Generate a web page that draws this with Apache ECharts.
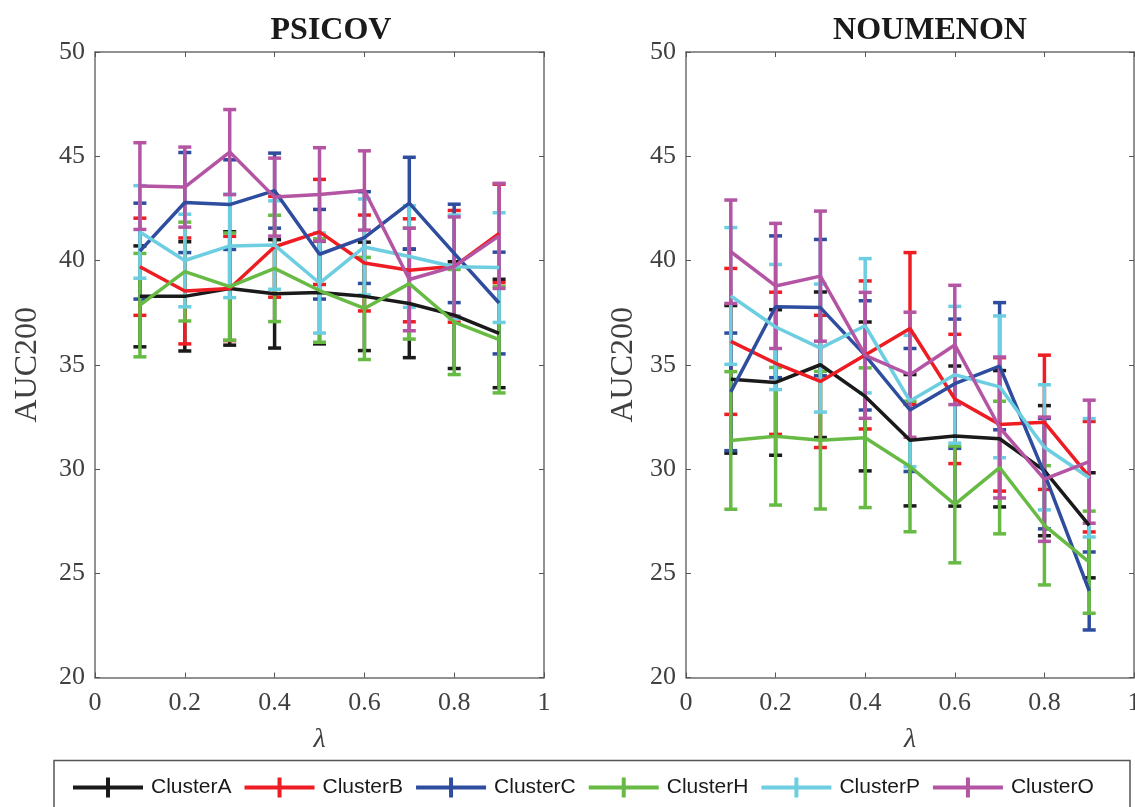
<!DOCTYPE html>
<html>
<head>
<meta charset="utf-8">
<script src="https://cdn.jsdelivr.net/npm/echarts@6/dist/echarts.min.js"></script>
<style>html,body{margin:0;padding:0;background:#fff}#c{width:1135px;height:807px}</style>
</head>
<body>
<div id="c"></div>
<script>
// ---- data ----
const lambda = [0.1, 0.2, 0.3, 0.4, 0.5, 0.6, 0.7, 0.8, 0.9];
const clusters = ['ClusterA', 'ClusterB', 'ClusterC', 'ClusterH', 'ClusterP', 'ClusterO'];
const colors = ['#1a1a1a', '#ee1d24', '#2f4d9f', '#67bb45', '#6ccee0', '#b455a4'];
const panelTitles = ['PSICOV', 'NOUMENON'];
const xTicks = [0, 0.2, 0.4, 0.6, 0.8, 1];
const yTicks = [20, 25, 30, 35, 40, 45, 50];

// PSICOV means / error half-widths
const psicovA = [38.28, 38.28, 38.66, 38.40, 38.46, 38.28, 37.94, 37.38, 36.50];
const psicovAErr = [2.42, 2.62, 2.72, 2.60, 2.46, 2.60, 2.60, 2.56, 2.60];
const psicovB = [39.70, 38.54, 38.66, 40.66, 41.37, 39.88, 39.53, 39.72, 41.30];
const psicovBErr = [2.33, 2.54, 2.50, 2.42, 2.52, 2.30, 2.47, 2.68, 2.36];
const psicovC = [40.45, 42.78, 42.68, 43.35, 40.30, 41.10, 42.75, 40.34, 37.96];
const psicovCErr = [2.30, 2.40, 2.15, 1.80, 2.15, 2.20, 2.20, 2.36, 2.44];
const psicovH = [37.86, 39.47, 38.75, 39.62, 38.56, 37.70, 38.89, 37.05, 36.20];
const psicovHErr = [2.48, 2.37, 2.57, 2.55, 2.48, 2.45, 2.66, 2.52, 2.55];
const psicovP = [41.37, 40.00, 40.70, 40.74, 38.92, 40.65, 40.19, 39.70, 39.66];
const psicovPErr = [2.22, 2.22, 2.48, 2.12, 2.40, 2.30, 2.44, 2.48, 2.63];
const psicovO = [43.57, 43.52, 45.20, 43.04, 43.17, 43.36, 39.09, 39.71, 41.18];
const psicovOErr = [2.08, 1.92, 2.04, 1.87, 2.24, 1.90, 2.46, 2.38, 2.52];

// NOUMENON means / error half-widths
const noumA = [34.30, 34.15, 35.00, 33.48, 31.38, 31.58, 31.45, 29.92, 27.30];
const noumAErr = [3.54, 3.49, 3.49, 3.57, 3.15, 3.36, 3.27, 3.12, 2.52];
const noumB = [36.12, 35.07, 34.20, 35.47, 36.74, 33.36, 32.14, 32.24, 29.63];
const noumBErr = [3.50, 3.41, 3.17, 3.55, 3.64, 3.10, 3.20, 3.22, 2.65];
const noumC = [33.70, 37.78, 37.74, 35.45, 32.83, 34.09, 34.93, 29.78, 24.15];
const noumCErr = [2.82, 3.40, 3.27, 2.62, 2.95, 3.10, 3.05, 2.65, 1.87];
const noumH = [31.37, 31.57, 31.38, 31.50, 30.12, 28.30, 30.07, 27.30, 25.53];
const noumHErr = [3.30, 3.30, 3.30, 3.35, 3.13, 2.80, 3.18, 2.86, 2.45];
const noumP = [38.30, 36.81, 35.80, 36.87, 33.26, 34.52, 33.94, 31.04, 29.58];
const noumPErr = [3.28, 3.00, 3.07, 3.22, 3.15, 3.28, 3.40, 3.00, 2.84];
const noumO = [40.42, 38.78, 39.25, 35.45, 34.52, 35.95, 31.99, 29.51, 30.35];
const noumOErr = [2.48, 3.00, 3.12, 3.02, 3.00, 2.86, 3.38, 2.98, 2.95];

const panels = [
  { means: [psicovA, psicovB, psicovC, psicovH, psicovP, psicovO],
    errs: [psicovAErr, psicovBErr, psicovCErr, psicovHErr, psicovPErr, psicovOErr] },
  { means: [noumA, noumB, noumC, noumH, noumP, noumO],
    errs: [noumAErr, noumBErr, noumCErr, noumHErr, noumPErr, noumOErr] }
];

// ---- layout / style ----
const SERIF = "'Liberation Serif', 'Times New Roman', serif";
const SANS = "'Liberation Sans', Arial, sans-serif";
const frameColor = '#6e6e6e';
const labelColor = '#404040';
const grids = [
  { left: 95, top: 52, width: 449, height: 625.5, outerBoundsMode: 'none', containLabel: false },
  { left: 686, top: 52, width: 448, height: 625.5, outerBoundsMode: 'none', containLabel: false }
];

const xAxes = [], yAxes = [];
grids.forEach((g, gi) => {
  const common = {
    type: 'value', gridIndex: gi, splitLine: { show: false },
    axisLine: { show: true, onZero: false, lineStyle: { color: frameColor, width: 1.5 } },
    axisTick: { show: true, inside: true, length: 5, lineStyle: { color: '#555', width: 1 } }
  };
  xAxes.push(Object.assign({}, common, {
    position: 'bottom', min: xTicks[0], max: xTicks[xTicks.length - 1], interval: 0.2,
    axisLabel: { show: true, margin: 13, color: labelColor, fontFamily: SERIF, fontSize: 26 },
    name: 'λ', nameLocation: 'middle', nameGap: 48,
    nameTextStyle: { fontFamily: SERIF, fontStyle: 'italic', fontSize: 28, color: labelColor }
  }));
  xAxes.push(Object.assign({}, common, {
    position: 'top', min: xTicks[0], max: xTicks[xTicks.length - 1], interval: 0.2,
    axisLabel: { show: false }
  }));
  yAxes.push(Object.assign({}, common, {
    position: 'left', min: yTicks[0], max: yTicks[yTicks.length - 1], interval: 5,
    axisLabel: { show: true, margin: 10, color: labelColor, fontFamily: SERIF, fontSize: 26 },
    name: 'AUC200', nameLocation: 'middle', nameRotate: 90, nameGap: gi === 0 ? 51 : 46,
    nameTextStyle: { fontFamily: SERIF, fontSize: 32, color: labelColor }
  }));
  yAxes.push(Object.assign({}, common, {
    position: 'right', min: yTicks[0], max: yTicks[yTicks.length - 1], interval: 5,
    axisLabel: { show: false }
  }));
});

function errRender(color) {
  return function (params, api) {
    const x = api.value(0), lo = api.value(1), hi = api.value(2);
    const a = api.coord([x, lo]), b = api.coord([x, hi]);
    const hw = 6.5;
    const st = { stroke: color, lineWidth: 3.5 };
    return {
      type: 'group', children: [
        { type: 'line', shape: { x1: a[0], y1: a[1], x2: b[0], y2: b[1] }, style: st },
        { type: 'line', shape: { x1: a[0] - hw, y1: a[1], x2: a[0] + hw, y2: a[1] }, style: st },
        { type: 'line', shape: { x1: b[0] - hw, y1: b[1], x2: b[0] + hw, y2: b[1] }, style: st }
      ]
    };
  };
}

const series = [];
panels.forEach((p, gi) => {
  clusters.forEach((name, ci) => {
    const m = p.means[ci], e = p.errs[ci];
    series.push({
      type: 'custom', name: name, xAxisIndex: gi * 2, yAxisIndex: gi * 2,
      itemStyle: { color: colors[ci] },
      renderItem: errRender(colors[ci]),
      encode: { x: 0, y: [1, 2] },
      data: lambda.map((x, i) => [x, m[i] - e[i], m[i] + e[i]]),
      silent: true, animation: false
    });
    series.push({
      type: 'line', name: name, xAxisIndex: gi * 2, yAxisIndex: gi * 2,
      color: colors[ci], symbol: 'none', showSymbol: false,
      lineStyle: { color: colors[ci], width: 3.5 },
      data: lambda.map((x, i) => [x, m[i]]),
      animation: false
    });
  });
});

const chart = echarts.init(document.getElementById('c'), null, { renderer: 'canvas' });
chart.setOption({
  backgroundColor: '#fff',
  animation: false,
  grid: grids,
  xAxis: xAxes,
  yAxis: yAxes,
  legend: {
    data: clusters,
    left: 73, top: 777, padding: 0,
    itemWidth: 70, itemHeight: 20, itemGap: 13,
    icon: 'path://M0,8L70,8L70,12L0,12Z M33,0L37,0L37,20L33,20Z',
    textStyle: { fontFamily: SANS, fontSize: 21, color: '#1a1a1a', padding: [0, 0, 0, 3] },
    selectedMode: false
  },
  graphic: [
    { type: 'text', x: 331, y: 31, style: { text: panelTitles[0], font: "bold 32px 'Liberation Serif', 'Times New Roman', serif", fill: '#1a1a1a', textAlign: 'center', textVerticalAlign: 'middle' } },
    { type: 'text', x: 930, y: 31, style: { text: panelTitles[1], font: "bold 32px 'Liberation Serif', 'Times New Roman', serif", fill: '#1a1a1a', textAlign: 'center', textVerticalAlign: 'middle' } },
    { type: 'rect', shape: { x: 54, y: 760.5, width: 1076, height: 70 }, style: { fill: 'none', stroke: '#555', lineWidth: 1.5 }, z: 100 }
  ],
  series: series
});
</script>
</body>
</html>
